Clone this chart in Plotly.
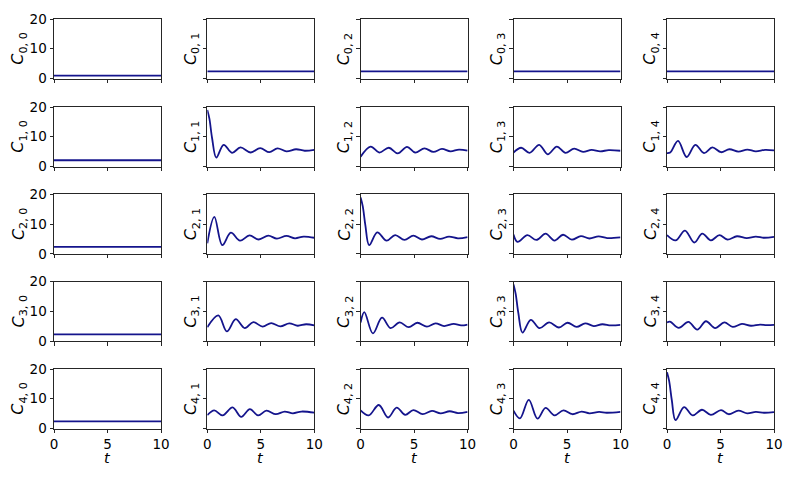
import plotly.graph_objects as go

# ---------------- data ----------------
T_RANGE = [0, 10]

# constant panels (first row and first column)
C00 = 1.0
C01 = 2.4
C02 = 2.4
C03 = 2.4
C04 = 2.4
C10 = 2.1
C20 = 2.3
C30 = 2.3
C40 = 2.4

T11 = [0, 0.2, 0.45, 0.84, 1.53, 2.31, 3.1, 4.06, 4.94, 5.8, 6.56, 7.4, 8.3, 9.1, 10]
V11 = [19.0, 16.0, 9.5, 3.0, 7.3, 4.6, 6.4, 4.7, 6.2, 4.8, 6.1, 5.1, 5.8, 5.3, 5.6]

T12 = [0, 0.94, 1.74, 2.64, 3.47, 4.34, 5.1, 5.97, 6.8, 7.6, 8.4, 9.2, 10]
V12 = [3.3, 6.7, 4.7, 6.3, 4.4, 6.6, 4.7, 6.1, 4.9, 5.9, 5.1, 5.7, 5.3]

T13 = [0, 0.72, 1.5, 2.4, 3.2, 4.05, 4.86, 5.67, 6.5, 7.3, 8.1, 8.9, 10]
V13 = [4.7, 6.3, 4.6, 7.3, 4.1, 6.7, 4.6, 6.0, 4.9, 5.6, 5.1, 5.5, 5.3]

T14 = [0, 0.3, 1.03, 1.84, 2.65, 3.46, 4.24, 5.05, 5.83, 6.67, 7.5, 8.3, 9.16, 10]
V14 = [4.5, 4.7, 8.6, 3.2, 7.3, 4.5, 6.4, 4.8, 5.8, 5.0, 5.7, 5.1, 5.6, 5.4]

T21 = [0, 0.66, 1.4, 2.2, 3.06, 3.94, 4.8, 5.7, 6.5, 7.4, 8.2, 9.0, 10]
V21 = [3.5, 12.4, 2.9, 7.1, 4.4, 6.2, 4.8, 6.1, 5.1, 6.0, 5.2, 5.8, 5.4]

T22 = [0, 0.2, 0.45, 0.8, 1.56, 2.43, 3.23, 4.1, 4.93, 5.73, 6.6, 7.43, 8.26, 9.1, 10]
V22 = [18.9, 16.0, 9.5, 2.9, 7.2, 4.4, 6.3, 4.7, 6.1, 4.8, 5.9, 5.0, 5.8, 5.2, 5.6]

T23 = [0, 0.38, 1.3, 2.14, 3.0, 3.83, 4.63, 5.45, 6.3, 7.1, 7.95, 8.75, 10]
V23 = [6.5, 4.0, 6.25, 4.65, 6.75, 4.45, 6.4, 4.75, 5.95, 5.15, 5.85, 5.3, 5.55]

T24 = [0, 0.8, 1.68, 2.55, 3.3, 4.1, 4.9, 5.64, 6.54, 7.45, 8.3, 9.07, 10]
V24 = [6.3, 4.5, 7.8, 3.8, 6.8, 4.5, 6.3, 4.8, 5.9, 5.3, 5.8, 5.4, 5.7]

T31 = [0, 1.03, 1.83, 2.66, 3.5, 4.3, 5.17, 5.97, 6.83, 7.66, 8.45, 9.24, 10]
V31 = [4.7, 8.7, 3.3, 7.4, 4.4, 6.4, 4.9, 6.1, 5.0, 6.0, 5.2, 5.7, 5.3]

T32 = [0, 0.35, 1.15, 2.0, 2.8, 3.65, 4.5, 5.3, 6.2, 7.0, 7.8, 8.7, 9.4, 10]
V32 = [6.3, 9.8, 2.6, 7.9, 4.4, 6.3, 4.7, 6.2, 4.9, 6.0, 5.1, 5.8, 5.3, 5.6]

T33 = [0, 0.2, 0.45, 0.84, 1.62, 2.43, 3.33, 4.24, 5.05, 5.9, 6.7, 7.5, 8.3, 9.1, 10]
V33 = [19.1, 16.0, 9.5, 2.9, 7.2, 4.4, 6.3, 4.6, 6.2, 4.8, 6.0, 5.1, 5.7, 5.3, 5.5]

T34 = [0, 0.28, 1.1, 2.0, 2.83, 3.64, 4.5, 5.36, 6.14, 7.0, 7.85, 8.7, 9.3, 10]
V34 = [6.3, 6.6, 4.5, 6.5, 3.9, 6.7, 4.4, 6.3, 4.8, 5.8, 5.2, 5.6, 5.4, 5.5]

T41 = [0, 0.65, 1.43, 2.36, 3.17, 3.98, 4.75, 5.53, 6.4, 7.23, 8.0, 8.8, 10]
V41 = [4.5, 6.1, 4.4, 7.1, 3.9, 6.5, 4.4, 6.0, 4.8, 5.7, 5.1, 5.7, 5.3]

T42 = [0, 0.76, 1.7, 2.57, 3.37, 4.17, 4.93, 5.8, 6.67, 7.47, 8.33, 9.1, 10]
V42 = [6.1, 4.4, 7.9, 3.7, 7.0, 4.6, 6.2, 4.8, 5.9, 5.1, 5.8, 5.2, 5.6]

T43 = [0, 0.6, 1.43, 2.24, 3.0, 3.83, 4.67, 5.5, 6.36, 7.1, 8.0, 8.7, 10]
V43 = [6.0, 3.4, 9.6, 3.3, 6.9, 4.4, 6.1, 4.8, 5.7, 5.1, 5.6, 5.3, 5.6]

T44 = [0, 0.2, 0.45, 0.8, 1.6, 2.4, 3.27, 4.1, 5.05, 5.76, 6.67, 7.5, 8.3, 9.07, 10]
V44 = [18.9, 16.0, 9.5, 2.8, 7.2, 4.4, 6.3, 4.6, 6.2, 4.8, 6.0, 5.1, 5.6, 5.3, 5.5]

X_TICKS = [0, 5, 10]
Y_TICKS = [0, 10, 20]

# ---------------- assemble ----------------
CONST = {(0, 0): C00, (0, 1): C01, (0, 2): C02, (0, 3): C03, (0, 4): C04,
         (1, 0): C10, (2, 0): C20, (3, 0): C30, (4, 0): C40}
CURVES = {(1, 1): (T11, V11), (1, 2): (T12, V12), (1, 3): (T13, V13), (1, 4): (T14, V14),
          (2, 1): (T21, V21), (2, 2): (T22, V22), (2, 3): (T23, V23), (2, 4): (T24, V24),
          (3, 1): (T31, V31), (3, 2): (T32, V32), (3, 3): (T33, V33), (3, 4): (T34, V34),
          (4, 1): (T41, V41), (4, 2): (T42, V42), (4, 3): (T43, V43), (4, 4): (T44, V44)}

# the page body has an 8px margin; figure sized to fit the 797x478 window
OFF = 8
W, H = 797 - 2 * OFF, 478 - 2 * OFF
COL_LEFT = [54, 207.3, 360.6, 513.5, 667]   # screen pixels
PANEL_W = 107
ROW_TOP = [19, 107, 194.3, 281.7, 369]      # screen pixels
PANEL_H = 59.5

LINE_COLOR = "#14148c"
FONT = "DejaVu Sans"


def px(sx):
    return (sx - OFF) / W


def py(sy):
    return 1 - (sy - OFF) / H


fig = go.Figure()
layout = dict(width=W, height=H, margin=dict(l=0, r=0, t=0, b=0, autoexpand=False),
              paper_bgcolor="white", plot_bgcolor="white", showlegend=False,
              font=dict(family=FONT, size=13, color="black"))
annotations = []

for r in range(5):
    for c in range(5):
        k = r * 5 + c + 1
        xa = "x" if k == 1 else f"x{k}"
        ya = "y" if k == 1 else f"y{k}"
        if (r, c) in CONST:
            tx = T_RANGE
            vy = [CONST[(r, c)], CONST[(r, c)]]
            fig.add_trace(go.Scatter(x=tx, y=vy, mode="lines", xaxis=xa, yaxis=ya,
                                     line=dict(color=LINE_COLOR, width=1.8)))
        else:
            tx, vy = CURVES[(r, c)]
            fig.add_trace(go.Scatter(x=tx, y=vy, mode="lines", xaxis=xa, yaxis=ya,
                                     line=dict(color=LINE_COLOR, width=1.8, shape="spline",
                                               smoothing=1.0)))
        x0 = px(COL_LEFT[c])
        x1 = px(COL_LEFT[c] + PANEL_W)
        y1 = py(ROW_TOP[r])
        y0 = py(ROW_TOP[r] + PANEL_H)
        axstyle = dict(showline=True, linecolor="#262626", linewidth=1, mirror=True,
                       ticks="outside", ticklen=3.5, tickwidth=1, tickcolor="#262626",
                       showgrid=False, zeroline=False, fixedrange=True, automargin=False)
        xkey = "xaxis" if k == 1 else f"xaxis{k}"
        ykey = "yaxis" if k == 1 else f"yaxis{k}"
        layout[xkey] = dict(domain=[x0, x1], anchor=ya, range=T_RANGE,
                            tickvals=X_TICKS, showticklabels=(r == 4),
                            tickfont=dict(size=13.5), **axstyle)
        layout[ykey] = dict(domain=[y0, y1], anchor=xa, range=[0, 20],
                            tickvals=Y_TICKS, showticklabels=(c == 0),
                            tickfont=dict(size=13.5), **axstyle)
        # y label
        lx = px(COL_LEFT[c] - (35 if c == 0 else 16))
        ly = py(ROW_TOP[r] + PANEL_H / 2)
        annotations.append(dict(text=f"<i>C</i><sub>{r}, {c}</sub>", x=lx, y=ly,
                                xref="paper", yref="paper", xanchor="center",
                                yanchor="middle", textangle=-90, showarrow=False,
                                font=dict(size=16, family=FONT)))

for c in range(5):
    annotations.append(dict(text="<i>t</i>", x=px(COL_LEFT[c] + PANEL_W / 2),
                            y=py(458), xref="paper", yref="paper",
                            xanchor="center", yanchor="middle", showarrow=False,
                            font=dict(size=14.5, family=FONT)))

layout["annotations"] = annotations
fig.update_layout(**layout)
fig.write_html("out.html")
